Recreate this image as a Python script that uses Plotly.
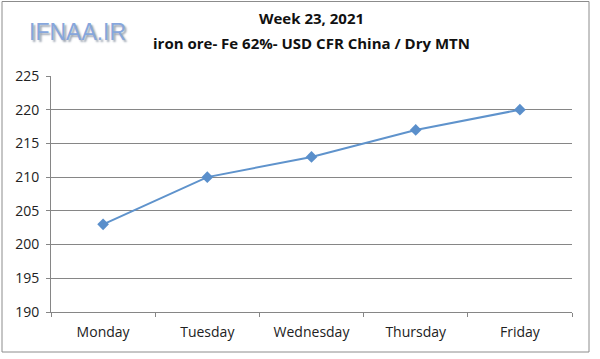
import plotly.graph_objects as go

days = ["Monday", "Tuesday", "Wednesday", "Thursday", "Friday"]
prices = [203, 210, 213, 217, 220]
y_ticks = [190, 195, 200, 205, 210, 215, 220, 225]

title_line1 = "Week 23, 2021"
title_line2 = "iron ore- Fe 62%- USD CFR China / Dry MTN"
logo_text = "IFNAA.IR"

W, H = 600, 359
L, R, T, B = 51, 28, 76, 47
pw, ph = W - L - R, H - T - B

def px_x(x):
    return (x - L) / pw

def px_y(y):
    return (H - B - y) / ph

fig = go.Figure()
fig.add_trace(go.Scatter(
    x=days, y=prices, mode="lines+markers",
    line=dict(color="#5f93cc", width=2),
    marker=dict(symbol="diamond", size=9, color="#5a8fcb"),
    showlegend=False, hoverinfo="skip",
))

font_main = "Open Sans, Liberation Sans, sans-serif"

fig.update_layout(
    width=W, height=H,
    margin=dict(l=L, r=R, t=T, b=B, autoexpand=False),
    paper_bgcolor="white", plot_bgcolor="white",
    xaxis=dict(
        showgrid=False, showline=True, linecolor="#868686", linewidth=1,
        ticks="outside", ticklen=4, tickcolor="#868686", tickson="boundaries",
        tickfont=dict(family=font_main, size=14, color="#222"),
        ticklabelstandoff=7,
        range=[-0.5, 4.5], automargin=False,
    ),
    yaxis=dict(
        range=[190, 225], tickvals=y_ticks,
        showgrid=True, gridcolor="#868686", gridwidth=1,
        showline=True, linecolor="#868686", linewidth=1,
        ticks="outside", ticklen=4, tickcolor="#868686",
        tickfont=dict(family=font_main, size=14, color="#222"),
        ticklabelstandoff=4,
        zeroline=False, automargin=False,
    ),
    shapes=[dict(
        type="rect", xref="paper", yref="paper",
        x0=px_x(2), x1=px_x(589), y0=px_y(352), y1=px_y(1.5),
        line=dict(color="#8c8c8c", width=1), fillcolor="rgba(0,0,0,0)",
        layer="below",
    )],
    annotations=[
        dict(text="<b>" + title_line1 + "</b>", xref="paper", yref="paper",
             x=0.5, y=px_y(18), xanchor="center", yanchor="middle", showarrow=False,
             font=dict(family=font_main, size=15, color="#111")),
        dict(text="<b>" + title_line2 + "</b>", xref="paper", yref="paper",
             x=0.5, y=px_y(43), xanchor="center", yanchor="middle", showarrow=False,
             font=dict(family=font_main, size=15, color="#111")),
        dict(text=logo_text, xref="paper", yref="paper",
             x=px_x(77), y=px_y(32), xanchor="center", yanchor="middle", showarrow=False,
             font=dict(family="Liberation Sans, sans-serif", size=23, color="#86a6dc",
                       shadow="2px 2px 2px #9aa3b0")),
    ],
)

fig.write_html(
    "out.html",
    config={"displayModeBar": False, "staticPlot": True},
    post_script="document.body.style.margin='0';document.body.style.overflow='hidden';",
)
